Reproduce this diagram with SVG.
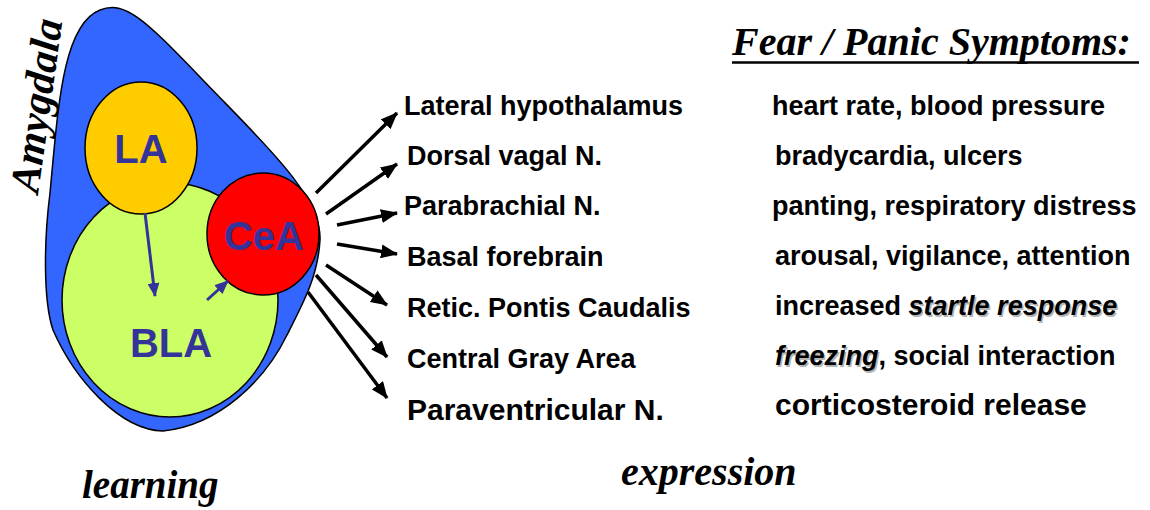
<svg xmlns="http://www.w3.org/2000/svg" width="1150" height="510" viewBox="0 0 1150 510">
<style>
.lbl{font-family:"Liberation Sans",Arial,sans-serif;font-weight:bold;font-size:27px;fill:#000}
.big{font-size:30px}
.nuc{font-family:"Liberation Sans",Arial,sans-serif;font-weight:bold;font-size:40px;fill:#333399;text-anchor:middle}
.ser{font-family:"Liberation Serif","Times New Roman",serif;font-weight:bold;font-style:italic;fill:#000}
.it{font-style:italic}
.sh{fill:#b4b4b4}
.conn{stroke:#000;stroke-width:3.5;fill:none;marker-end:url(#ah)}
.inner{stroke:#333399;stroke-width:3;fill:none;marker-end:url(#ahb)}
</style>
<defs>
<marker id="ah" markerUnits="userSpaceOnUse" markerWidth="18" markerHeight="14" refX="16" refY="7" orient="auto">
<path d="M0,0 L17,7 L0,14 Z" fill="#000"/>
</marker>
<marker id="ahb" markerUnits="userSpaceOnUse" markerWidth="14" markerHeight="12" refX="13" refY="6" orient="auto">
<path d="M0,0 L14,6 L0,12 Z" fill="#333399"/>
</marker>
</defs>
<rect width="1150" height="510" fill="#fff"/>
<g id="amygdala">
<path d="M100,10 C125,0 145,20 200,77 C260,140 322,195 320,240 C318,275 305,300 287,335 C265,380 220,425 163,431 C120,430 75,380 53,330 C43,300 44,240 50,193 C58,110 62,25 100,10 Z" fill="#3366FF" stroke="#000" stroke-width="1.5"/>
<text class="ser" font-size="42" transform="translate(38,194) rotate(-82)">Amygdala</text>
</g>
<g id="BLA">
<ellipse cx="170" cy="300" rx="108" ry="117" fill="#CCFF66" stroke="#000" stroke-width="1.5"/>
<text class="nuc" x="171" y="357">BLA</text>
</g>
<g id="LA">
<ellipse cx="141" cy="148" rx="56" ry="66" fill="#FFCC00" stroke="#000" stroke-width="1.5"/>
<text class="nuc" x="141" y="163">LA</text>
</g>
<g id="CeA">
<ellipse cx="263" cy="234" rx="56" ry="61" fill="#FF0000" stroke="#000" stroke-width="1.5"/>
<text class="nuc" x="264" y="250">CeA</text>
</g>
<g id="connectors">
<line class="inner" x1="145" y1="213" x2="155" y2="296"/>
<line class="inner" x1="207" y1="300" x2="228" y2="281"/>
<line class="conn" x1="316" y1="193" x2="397" y2="113"/>
<line class="conn" x1="326" y1="214" x2="397" y2="164"/>
<line class="conn" x1="337" y1="225" x2="397" y2="213"/>
<line class="conn" x1="337" y1="244" x2="397" y2="254"/>
<line class="conn" x1="326" y1="265" x2="387" y2="305"/>
<line class="conn" x1="316" y1="275" x2="387" y2="357"/>
<line class="conn" x1="308" y1="292" x2="387" y2="398"/>
</g>
<g id="targets">
<text class="lbl" x="404" y="115">Lateral hypothalamus</text>
<text class="lbl" x="407" y="165">Dorsal vagal N.</text>
<text class="lbl" x="404" y="215">Parabrachial N.</text>
<text class="lbl" x="407" y="266">Basal forebrain</text>
<text class="lbl" x="407" y="317">Retic. Pontis Caudalis</text>
<text class="lbl" x="407" y="368">Central Gray Area</text>
<text class="lbl big" x="407" y="420">Paraventricular N.</text>
</g>
<g id="symptoms">
<text class="ser" font-size="40" x="732" y="55">Fear / Panic Symptoms:</text>
<line x1="732" y1="62.5" x2="1139" y2="62.5" stroke="#000" stroke-width="2.5"/>
<text class="lbl" x="772" y="115">heart rate, blood pressure</text>
<text class="lbl" x="775" y="165">bradycardia, ulcers</text>
<text class="lbl" x="772" y="215">panting, respiratory distress</text>
<text class="lbl" x="775" y="265">arousal, vigilance, attention</text>
<text class="lbl" x="776.5" y="316.5"><tspan fill="none">increased </tspan><tspan class="it sh">startle response</tspan></text>
<text class="lbl" x="775" y="315">increased <tspan class="it">startle response</tspan></text>
<text class="lbl" x="776.5" y="366.5"><tspan class="it sh">freezing</tspan></text>
<text class="lbl" x="775" y="365"><tspan class="it">freezing</tspan>, social interaction</text>
<text class="lbl big" x="775" y="415">corticosteroid release</text>
</g>
<g id="captions">
<text class="ser" font-size="39" x="82" y="498">learning</text>
<text class="ser" font-size="40" x="621" y="485">expression</text>
</g>
</svg>
